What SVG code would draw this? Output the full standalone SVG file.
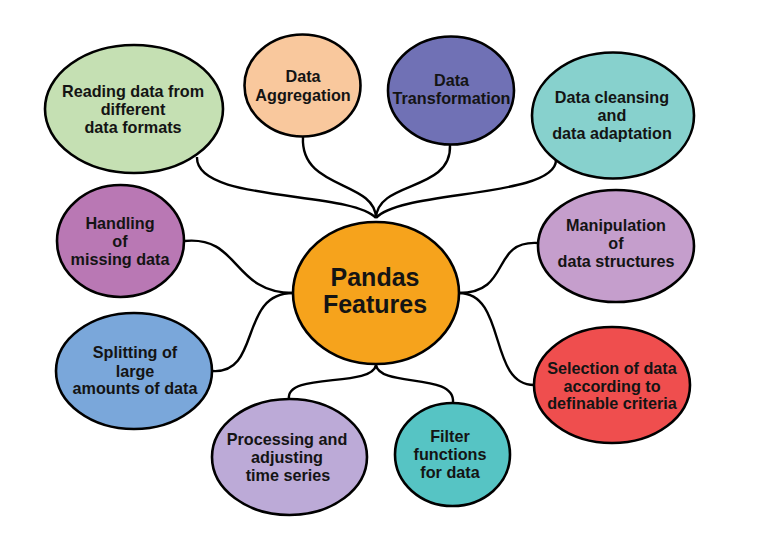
<svg xmlns="http://www.w3.org/2000/svg" width="768" height="543" viewBox="0 0 768 543">
<style>
.n{stroke:#000;stroke-width:2.6}
.t{font-family:"Liberation Sans",Arial,sans-serif;font-weight:bold;font-size:16.2px;fill:#141414;text-anchor:middle}
.big{font-size:25px}
.c{fill:none;stroke:#000;stroke-width:2.4}
</style>
<rect width="768" height="543" fill="#fff"/>
<g id="connectors">
<path class="c" d="M197,157 C195,203 350,190 376,218"/>
<path class="c" d="M303,137 C300,190 375,180 376,218"/>
<path class="c" d="M450,145 C452,192 378,180 376,218"/>
<path class="c" d="M556,160 C556,198 400,190 376,218"/>
<path class="c" d="M184,241 C240,235 232,293 293,293"/>
<path class="c" d="M212,371 C262,375 238,293 293,293"/>
<path class="c" d="M538,243 C490,240 512,293 459,293"/>
<path class="c" d="M534,385 C488,385 507,293 459,293"/>
<path class="c" d="M289,399 C285,372 372,388 376,365"/>
<path class="c" d="M453,403 C456,372 380,388 376,365"/>
</g>
<g id="reading">
<ellipse class="n" cx="134" cy="109" rx="89" ry="64" fill="#c5e0b3"/>
<text class="t" x="133" y="97">Reading data from</text>
<text class="t" x="133" y="115">different</text>
<text class="t" x="133" y="133">data formats</text>
</g>
<g id="aggregation">
<ellipse class="n" cx="302.5" cy="85.5" rx="58" ry="51" fill="#f9c89d"/>
<text class="t" x="303" y="82">Data</text>
<text class="t" x="303" y="100.5">Aggregation</text>
</g>
<g id="transformation">
<ellipse class="n" cx="451" cy="90.5" rx="63" ry="54" fill="#7071b5"/>
<text class="t" x="451.5" y="85.5">Data</text>
<text class="t" x="451.5" y="104">Transformation</text>
</g>
<g id="cleansing">
<ellipse class="n" cx="613" cy="115.5" rx="81" ry="63" fill="#87d1cd"/>
<text class="t" x="612" y="103">Data cleansing</text>
<text class="t" x="612" y="121">and</text>
<text class="t" x="612" y="139">data adaptation</text>
</g>
<g id="handling">
<ellipse class="n" cx="120.5" cy="241" rx="63.5" ry="56" fill="#b978b4"/>
<text class="t" x="120" y="229">Handling</text>
<text class="t" x="120" y="247">of</text>
<text class="t" x="120" y="265">missing data</text>
</g>
<g id="splitting">
<ellipse class="n" cx="134" cy="371" rx="78" ry="58" fill="#7aa7da"/>
<text class="t" x="135" y="358">Splitting of</text>
<text class="t" x="135" y="376.5">large</text>
<text class="t" x="135" y="394">amounts of data</text>
</g>
<g id="pandas">
<ellipse class="n" cx="376" cy="293" rx="83" ry="71" fill="#f6a31c"/>
<text class="t big" x="375" y="286">Pandas</text>
<text class="t big" x="375" y="313">Features</text>
</g>
<g id="manipulation">
<ellipse class="n" cx="616" cy="246" rx="78" ry="56" fill="#c59ecc"/>
<text class="t" x="616" y="231">Manipulation</text>
<text class="t" x="616" y="249">of</text>
<text class="t" x="616" y="267">data structures</text>
</g>
<g id="selection">
<ellipse class="n" cx="612" cy="385" rx="78" ry="58" fill="#ef4e4e"/>
<text class="t" x="612" y="374">Selection of data</text>
<text class="t" x="612" y="391.5">according to</text>
<text class="t" x="612" y="409">definable criteria</text>
</g>
<g id="processing">
<ellipse class="n" cx="289.5" cy="457" rx="77.5" ry="58" fill="#bcaad7"/>
<text class="t" x="287" y="445">Processing and</text>
<text class="t" x="287" y="463">adjusting</text>
<text class="t" x="288" y="481">time series</text>
</g>
<g id="filter">
<ellipse class="n" cx="452.5" cy="454.5" rx="57.5" ry="51.5" fill="#56c4c4"/>
<text class="t" x="450" y="442">Filter</text>
<text class="t" x="450" y="460">functions</text>
<text class="t" x="450" y="478">for data</text>
</g>
</svg>
